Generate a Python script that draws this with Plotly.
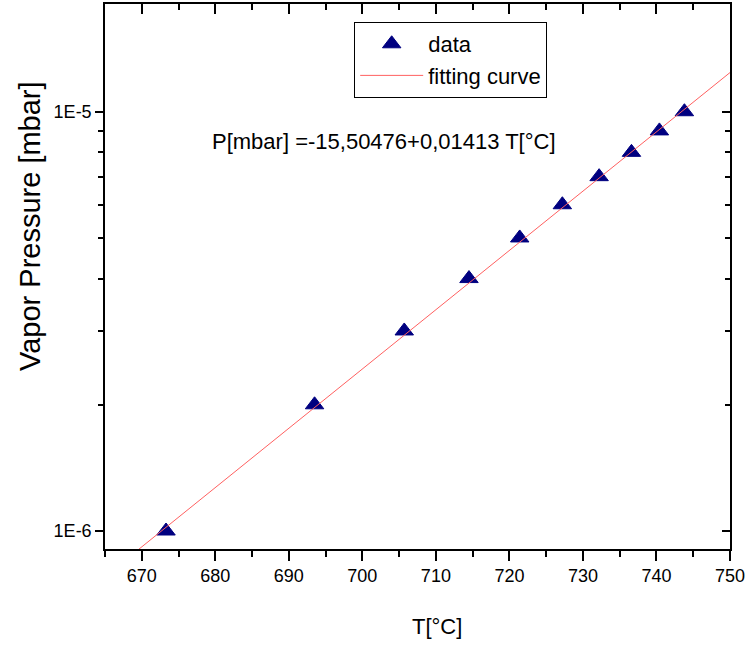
import plotly.graph_objects as go

# Data
temps = [673.3, 693.5, 705.7, 714.5, 721.4, 727.2, 732.2, 736.6, 740.4, 743.8]
pressures = [1e-6, 2e-6, 3e-6, 4e-6, 5e-6, 6e-6, 7e-6, 8e-6, 9e-6, 1e-5]

fit_temps = [669.3, 750.0]
fit_pressures = [8.96e-7, 1.24e-5]

x_ticks = [670, 680, 690, 700, 710, 720, 730, 740, 750]
y_major = [1e-6, 1e-5]
y_major_text = ["1E-6", "1E-5"]
y_minor = [2e-6, 3e-6, 4e-6, 5e-6, 6e-6, 7e-6, 8e-6, 9e-6]

FONT = "Liberation Sans, Arial, sans-serif"
X_RANGE = [665, 750]
Y_RANGE = [-6.0429, -4.7431]

fig = go.Figure()
fig.add_trace(go.Scatter(
    x=temps, y=pressures, mode="markers", name="data",
    marker=dict(symbol="triangle-up", size=16, color="#000080",
                line=dict(color="#000080", width=1)),
))
fig.add_trace(go.Scatter(
    x=fit_temps, y=fit_pressures, mode="lines", name="fitting curve",
    line=dict(color="#ff6060", width=1),
))
# invisible trace to anchor the mirrored (top/right) axes
fig.add_trace(go.Scatter(x=[X_RANGE[0]], y=[1e-6], xaxis="x2", yaxis="y2",
                         mode="markers", marker=dict(opacity=0),
                         showlegend=False, hoverinfo="skip"))

fig.update_layout(
    width=749, height=645,
    margin=dict(l=105, r=17, t=4, b=96),
    plot_bgcolor="white", paper_bgcolor="white",
    font=dict(family=FONT, color="black"),
    showlegend=True,
    legend=dict(
        x=0.3987, y=0.967, xanchor="left", yanchor="top",
        bordercolor="black", borderwidth=1, bgcolor="white",
        font=dict(size=22, family=FONT), itemwidth=63,
        tracegroupgap=0,
    ),
    xaxis=dict(
        range=X_RANGE, tickvals=x_ticks, ticks="outside", ticklen=10,
        tickwidth=1.5, tickcolor="black", showline=True, linecolor="black",
        linewidth=1.5, showgrid=False, zeroline=False,
        tickfont=dict(size=18, family=FONT),
        minor=dict(dtick=5, ticks="outside", ticklen=6, tickwidth=1.5, tickcolor="black"),
    ),
    yaxis=dict(
        type="log", range=Y_RANGE, tickvals=y_major, ticktext=y_major_text,
        ticks="outside", ticklen=8, tickwidth=1.5, tickcolor="black",
        showline=True, linecolor="black", linewidth=1.5, showgrid=False,
        zeroline=False, tickfont=dict(size=18, family=FONT),
        minor=dict(tickvals=y_minor, ticks="outside", ticklen=5, tickwidth=1.5, tickcolor="black"),
    ),
    xaxis2=dict(
        overlaying="x", side="top", anchor="y2", range=X_RANGE, tickvals=x_ticks,
        ticks="inside", ticklen=10, tickwidth=1.5, tickcolor="black",
        showticklabels=False, showline=True, linecolor="black", linewidth=1.5,
        showgrid=False, zeroline=False,
        minor=dict(dtick=5, ticks="inside", ticklen=6, tickwidth=1.5, tickcolor="black"),
    ),
    yaxis2=dict(
        overlaying="y", side="right", anchor="x2", type="log", range=Y_RANGE,
        tickvals=y_major, ticks="inside", ticklen=8, tickwidth=1.5, tickcolor="black",
        showticklabels=False, showline=True, linecolor="black", linewidth=1.5,
        showgrid=False, zeroline=False,
        minor=dict(tickvals=y_minor, ticks="inside", ticklen=5, tickwidth=1.5, tickcolor="black"),
    ),
    annotations=[
        dict(text="P[mbar] =-15,50476+0,01413 T[°C]", xref="paper", yref="paper",
             x=0.4466, y=0.7486, xanchor="center", yanchor="middle",
             showarrow=False, font=dict(size=22, family=FONT)),
        dict(text="T[°C]", xref="paper", yref="paper", x=0.531, y=-0.1413,
             xanchor="center", yanchor="middle", showarrow=False,
             font=dict(size=22, family=FONT)),
        dict(text="Vapor Pressure [mbar]", xref="paper", yref="paper", x=-0.12,
             y=(549 - 226) / 545, xanchor="center", yanchor="middle", textangle=-90,
             showarrow=False, font=dict(size=29, family=FONT)),
    ],
)

fig.write_html("out.html", config={"displayModeBar": False},
               post_script="document.body.style.margin='0';")
